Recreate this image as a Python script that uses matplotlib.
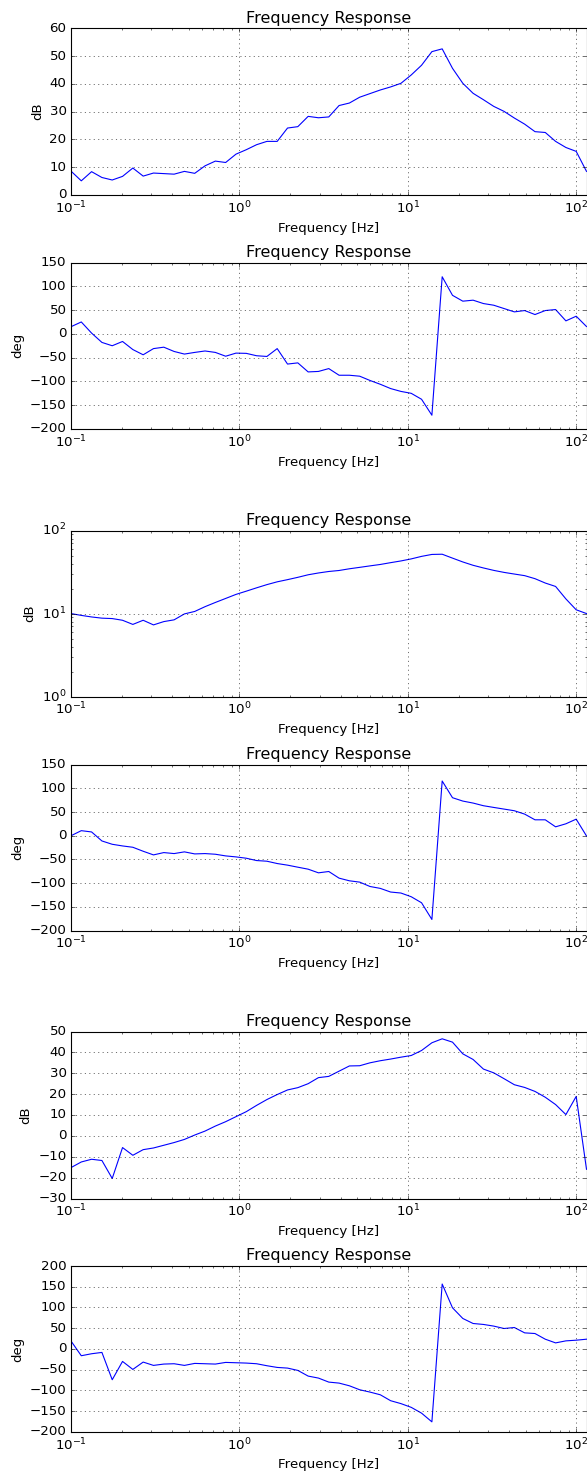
import matplotlib
matplotlib.use("Agg")
import matplotlib.pyplot as plt

plt.style.use("classic")

# frequency grid [Hz]
freq = [0.1, 0.1151, 0.1325, 0.1526, 0.1757, 0.2023, 0.2329, 0.2682, 0.3088, 0.3556,
        0.4094, 0.4714, 0.5427, 0.6249, 0.7195, 0.8284, 0.9537, 1.098, 1.264, 1.456,
        1.676, 1.930, 2.222, 2.559, 2.946, 3.392, 3.905, 4.497, 5.177, 5.961,
        6.863, 7.902, 9.099, 10.47, 12.06, 13.89, 15.99, 18.41, 21.20, 24.40,
        28.10, 32.35, 37.25, 42.89, 49.38, 56.86, 65.46, 75.37, 86.78, 99.88, 115.0]

mag_a = [8.6, 5.1, 8.4, 6.3, 5.4, 6.7, 9.7, 6.8, 7.9, 7.7,
         7.5, 8.5, 7.8, 10.5, 12.2, 11.7, 14.7, 16.3, 18.1, 19.3,
         19.3, 24.1, 24.6, 28.3, 27.8, 28.1, 32.2, 33.1, 35.2, 36.5,
         37.8, 38.9, 40.2, 43.2, 46.7, 51.6, 52.6, 45.6, 40.2, 36.6,
         34.3, 31.9, 30.1, 27.7, 25.5, 22.8, 22.5, 19.3, 17.1, 15.7, 8.5]

phase_a = [15, 25, 1.6, -18, -25, -16, -33, -44, -31, -28,
           -37, -42.5, -39, -36, -39, -47, -40.5, -41, -46, -47.5,
           -31, -63.5, -61, -80, -79, -73, -87, -87, -89, -98,
           -106, -115, -121, -125, -137.5, -171, 120, 81, 68.7, 70.8,
           63.7, 60.2, 53.2, 46.2, 49, 40.6, 49, 51.1, 27.3, 37.1, 15.4]

mag_b = [10.0, 9.5, 9.1, 8.8, 8.7, 8.3, 7.4, 8.3, 7.3, 8.0,
         8.4, 9.9, 10.6, 12.1, 13.6, 15.2, 17.0, 18.6, 20.4, 22.3,
         24.1, 25.6, 27.3, 29.3, 30.8, 32.1, 33.0, 34.6, 36.0, 37.5,
         39.0, 41.0, 43.0, 45.5, 48.8, 51.5, 51.8, 46.5, 41.8, 38.1,
         35.4, 33.1, 31.3, 29.9, 28.6, 26.3, 23.3, 21.2, 15.0, 11.1, 10.0]

phase_b = [0, 10.7, 8, -11, -18, -21.5, -24.3, -32.7, -40.4, -35.5,
           -37.6, -34, -38.3, -37.6, -39, -42.5, -44.6, -47.4, -52.3, -53.7,
           -58.6, -62, -66.3, -70.5, -78.2, -75.4, -89.4, -95, -97.8, -107,
           -111, -118.7, -120.8, -128.6, -141.3, -176.5, 115.4, 80.2, 73.1, 68.9,
           63.3, 59.7, 56.2, 52.7, 45.6, 33.6, 33.6, 18.8, 25.2, 35.0, -0.5]

mag_c = [-15.2, -12.5, -11.2, -11.8, -20.4, -5.6, -9.3, -6.6, -5.8, -4.5,
         -3.2, -1.7, 0.4, 2.3, 4.7, 6.8, 9.2, 11.6, 14.6, 17.4,
         19.8, 22.0, 23.1, 25.0, 27.9, 28.5, 31.0, 33.5, 33.6, 35.0,
         36.0, 36.8, 37.7, 38.5, 40.9, 44.6, 46.5, 44.9, 39.3, 36.6,
         32.0, 30.2, 27.4, 24.5, 23.2, 21.3, 18.5, 15.0, 10.2, 18.9, -16.0]

phase_c = [19, -16.5, -11.7, -8.5, -74.4, -30.2, -49.5, -31.8, -39.8, -36.6,
           -35.8, -39.8, -35, -35.8, -36.6, -32.6, -33.4, -34.2, -35.8, -40.6,
           -44.7, -46.3, -51.9, -65.6, -70.4, -80.1, -82.5, -89, -98.6, -104.2,
           -110.7, -125, -132, -141, -155, -176, 156.5, 99.2, 73.4, 61.3,
           59, 55, 49.2, 51.6, 38.7, 37.1, 23.4, 14.5, 19.4, 21, 23.4]

W, H = 587, 1477
fig = plt.figure(figsize=(W / 80, H / 80), dpi=80, facecolor="white")

# (top px, bottom px, values, ylabel, ylim, log y)
panels = [
    (28.3, 195.0, mag_a, "dB", (0, 60), False),
    (262.5, 429.0, phase_a, "deg", (-200, 150), False),
    (530.5, 696.6, mag_b, "dB", (1, 100), True),
    (764.6, 930.6, phase_b, "deg", (-200, 150), False),
    (1031.5, 1198.5, mag_c, "dB", (-30, 50), False),
    (1266.0, 1431.8, phase_c, "deg", (-200, 200), False),
]

left, right = 71.0, 586.5
for top, bottom, values, ylabel, ylim, logy in panels:
    ax = fig.add_axes([left / W, 1 - bottom / H, (right - left) / W, (bottom - top) / H])
    ax.plot(freq, values, color="b", linewidth=1.0)
    ax.set_xscale("log")
    if logy:
        ax.set_yscale("log")
    ax.set_xlim(0.1, 115)
    ax.set_ylim(*ylim)
    ax.grid(True)
    ax.set_title("Frequency Response")
    ax.set_xlabel("Frequency [Hz]")
    ax.set_ylabel(ylabel)

fig.savefig("out.png", dpi=80, facecolor="white")
